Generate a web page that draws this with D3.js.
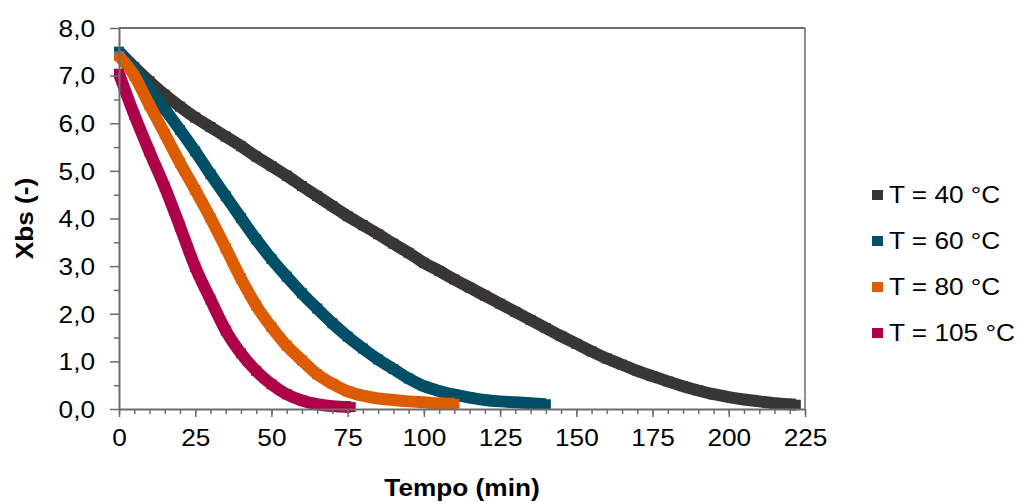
<!DOCTYPE html>
<html>
<head>
<meta charset="utf-8">
<script src="https://cdn.jsdelivr.net/npm/d3@7"></script>
<style>
  body { margin: 0; background: #fff; }
  svg { display: block; font-family: "Liberation Sans", Arial, sans-serif; }
</style>
</head>
<body>
<svg id="chart" width="1019" height="502"></svg>
<script>
// data (time in min, Xbs in -)
const t40 = [0, 5, 10, 15, 20, 25, 30, 35, 40, 45, 50, 55, 60, 65, 70, 75, 80, 85, 90, 95, 100, 105, 110, 115, 120, 125, 130, 135, 140, 145, 150, 155, 160, 165, 170, 175, 180, 185, 190, 195, 200, 205, 210, 215, 222];
const x40 = [7.50, 7.18, 6.88, 6.60, 6.35, 6.12, 5.92, 5.72, 5.52, 5.30, 5.10, 4.90, 4.68, 4.47, 4.26, 4.05, 3.86, 3.67, 3.47, 3.28, 3.07, 2.90, 2.72, 2.55, 2.38, 2.21, 2.04, 1.87, 1.70, 1.53, 1.37, 1.21, 1.06, 0.93, 0.80, 0.69, 0.58, 0.48, 0.39, 0.31, 0.25, 0.20, 0.16, 0.12, 0.09];

const t60 = [0, 5, 10, 15, 20, 25, 30, 35, 40, 45, 50, 55, 60, 65, 70, 75, 80, 85, 90, 95, 100, 105, 110, 115, 120, 125, 130, 135, 140];
const x60 = [7.50, 7.13, 6.72, 6.30, 5.86, 5.41, 4.93, 4.47, 4.01, 3.56, 3.15, 2.78, 2.43, 2.11, 1.80, 1.52, 1.27, 1.04, 0.84, 0.64, 0.48, 0.38, 0.30, 0.24, 0.19, 0.16, 0.14, 0.12, 0.10];

const t80 = [0, 5, 10, 15, 20, 25, 30, 35, 40, 45, 50, 55, 60, 65, 70, 75, 80, 85, 90, 95, 100, 105, 110];
const x80 = [7.41, 7.00, 6.38, 5.78, 5.17, 4.60, 4.01, 3.38, 2.74, 2.17, 1.72, 1.33, 1.02, 0.73, 0.53, 0.37, 0.28, 0.22, 0.19, 0.16, 0.14, 0.12, 0.11];

const t105 = [0, 5, 10, 15, 20, 25, 30, 35, 40, 45, 50, 55, 60, 65, 70, 76];
const x105 = [7.04, 6.18, 5.40, 4.66, 3.83, 2.98, 2.30, 1.65, 1.17, 0.80, 0.52, 0.31, 0.18, 0.10, 0.06, 0.04];

const seriesNames = ["T = 40 °C", "T = 60 °C", "T = 80 °C", "T = 105 °C"];
const seriesColors = ["#393734", "#014f67", "#dc5c02", "#ad0049"];
const seriesTimes = [t40, t60, t80, t105];
const seriesValues = [x40, x60, x80, x105];

const xTickValues = [0, 25, 50, 75, 100, 125, 150, 175, 200, 225];
const yTickValues = [0, 1, 2, 3, 4, 5, 6, 7, 8];
const yTickLabels = ["0,0", "1,0", "2,0", "3,0", "4,0", "5,0", "6,0", "7,0", "8,0"];

const margins = {left: 119, right: 214, top: 28, bottom: 93};
const width = 1019, height = 502;
const fontSize = 23;
const stretch = 1.14;   // the reference text is drawn a bit wide
const axisColor = "#6d6d6d";
const markerSize = 10;
const bandWidth = 12;

const svg = d3.select("#chart");

const scaleX = d3.scaleLinear()
    .domain([0, 225])
    .range([margins.left, width - margins.right]);

const scaleY = d3.scaleLinear()
    .domain([0, 8])
    .range([height - margins.bottom, margins.top]);

function wideText(sel) {
    // move x/y into a transform so the horizontal stretch keeps the anchor
    sel.each(function() {
        const t = d3.select(this);
        const x = +t.attr("x") || 0;
        const y = +t.attr("y") || 0;
        t.attr("x", 0).attr("y", 0)
            .attr("transform", `translate(${x},${y}) scale(${stretch},1)`);
    });
}

// frame: top and right borders
svg.append("line")
    .attr("x1", scaleX(0)).attr("x2", scaleX(225))
    .attr("y1", scaleY(8)).attr("y2", scaleY(8))
    .attr("stroke", axisColor).attr("stroke-width", 2);
svg.append("line")
    .attr("x1", scaleX(225)).attr("x2", scaleX(225))
    .attr("y1", scaleY(8)).attr("y2", scaleY(0))
    .attr("stroke", axisColor).attr("stroke-width", 1.5);

// series, drawn as a thick band plus square markers
const line = d3.line()
    .x(d => scaleX(d[0]))
    .y(d => scaleY(d[1]))
    .curve(d3.curveMonotoneX);

seriesTimes.forEach((times, i) => {
    const points = times.map((t, j) => [t, seriesValues[i][j]]);
    const g = svg.append("g");

    g.append("path")
        .datum(points)
        .attr("d", line)
        .attr("fill", "none")
        .attr("stroke", seriesColors[i])
        .attr("stroke-width", bandWidth)
        .attr("stroke-linejoin", "round");

    g.selectAll("rect")
        .data(points)
        .enter()
        .append("rect")
        .attr("x", d => scaleX(d[0]) - markerSize / 2)
        .attr("y", d => scaleY(d[1]) - markerSize / 2)
        .attr("width", markerSize)
        .attr("height", markerSize)
        .attr("fill", seriesColors[i]);
});

// x axis: minor ticks every 5 min, major every 25 min
const xAxisY = scaleY(0);
svg.append("g")
    .attr("transform", `translate(0, ${xAxisY})`)
    .call(d3.axisBottom(scaleX).tickValues(d3.range(0, 226, 5)).tickSize(5).tickFormat(""))
    .call(g => g.select(".domain").remove())
    .call(g => g.selectAll("line").attr("stroke", axisColor).attr("stroke-width", 1.5));

const xAxis = svg.append("g")
    .attr("transform", `translate(0, ${xAxisY})`)
    .call(d3.axisBottom(scaleX).tickValues(xTickValues).tickSize(8).tickSizeOuter(0).tickPadding(29));
xAxis.attr("font-family", null).attr("font-size", null);
xAxis.select(".domain").attr("stroke", axisColor).attr("stroke-width", 2);
xAxis.selectAll("line").attr("stroke", axisColor).attr("stroke-width", 1.5);
xAxis.selectAll("text")
    .attr("font-size", fontSize)
    .attr("fill", "#000")
    .attr("dy", "0")
    .call(wideText);

// y axis: minor ticks every 0.5
svg.append("g")
    .attr("transform", `translate(${margins.left}, 0)`)
    .call(d3.axisLeft(scaleY).tickValues(d3.range(0.5, 8, 1)).tickSize(5).tickFormat(""))
    .call(g => g.select(".domain").remove())
    .call(g => g.selectAll("line").attr("stroke", axisColor).attr("stroke-width", 1.5));

const yAxis = svg.append("g")
    .attr("transform", `translate(${margins.left}, 0)`)
    .call(d3.axisLeft(scaleY).tickValues(yTickValues).tickSize(9).tickSizeOuter(0).tickPadding(15)
        .tickFormat((d, i) => yTickLabels[i]));
yAxis.attr("font-family", null).attr("font-size", null);
yAxis.select(".domain").attr("stroke", axisColor).attr("stroke-width", 2);
yAxis.selectAll("line").attr("stroke", axisColor).attr("stroke-width", 1.5);
yAxis.selectAll("text")
    .attr("font-size", fontSize)
    .attr("fill", "#000")
    .attr("dy", "0.36em")
    .call(wideText);

// axis titles
svg.append("text")
    .attr("transform", `translate(${(scaleX(0) + scaleX(225)) / 2}, 496) scale(${stretch},1)`)
    .attr("text-anchor", "middle")
    .attr("font-size", fontSize)
    .attr("font-weight", "bold")
    .text("Tempo (min)");

svg.append("text")
    .attr("transform", `translate(33, ${(scaleY(0) + scaleY(8)) / 2}) rotate(-90) scale(${stretch},1)`)
    .attr("text-anchor", "middle")
    .attr("font-size", fontSize)
    .attr("font-weight", "bold")
    .text("Xbs (-)");

// legend
const legendX = 872;
const legendY = 195;
const legendStep = 46;

const legend = svg.append("g");
seriesNames.forEach((name, i) => {
    const y = legendY + i * legendStep;
    legend.append("rect")
        .attr("x", legendX)
        .attr("y", y - 5)
        .attr("width", 11)
        .attr("height", 10)
        .attr("fill", seriesColors[i]);
    legend.append("text")
        .attr("transform", `translate(${legendX + 17}, ${y + 8}) scale(${stretch},1)`)
        .attr("font-size", fontSize)
        .text(name);
});
</script>
</body>
</html>
